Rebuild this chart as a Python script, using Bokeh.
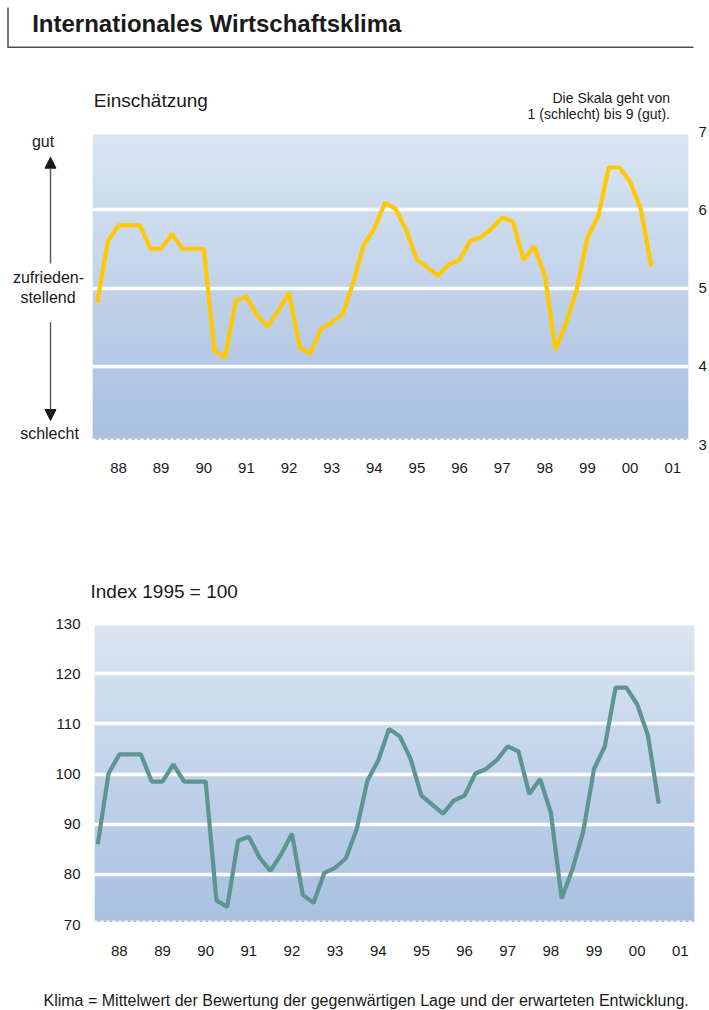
from bokeh.plotting import figure
from bokeh.models import Range1d, FixedTicker, Label, Arrow, NormalHead, Span
from bokeh.layouts import column, row
from bokeh.embed import file_html
from bokeh.resources import INLINE

# ---------------- data ----------------
years = list(range(1988, 2001))
quarter_labels = [f"{y}-Q{q}" for y in years for q in (1, 2, 3, 4)] + ["2001-Q1"]

# Einschaetzung (scale 1 = schlecht ... 9 = gut)
einschaetzung = [4.81, 5.60, 5.80, 5.80, 5.80, 5.50, 5.50, 5.69, 5.50, 5.50,
                 5.50, 4.20, 4.11, 4.84, 4.89, 4.65, 4.51, 4.71, 4.94, 4.24,
                 4.16, 4.48, 4.56, 4.66, 5.06, 5.55, 5.76, 6.09, 6.01, 5.74,
                 5.36, 5.26, 5.16, 5.30, 5.36, 5.60, 5.65, 5.76, 5.90, 5.85,
                 5.36, 5.53, 5.16, 4.21, 4.55, 4.99, 5.65, 5.91, 6.54, 6.54,
                 6.36, 6.01, 5.27]

# Index 1995 = 100
klima_index = [86.0, 100.1, 103.9, 103.9, 103.9, 98.5, 98.5, 101.9, 98.5, 98.5,
               98.5, 74.8, 73.5, 86.7, 87.5, 83.3, 80.7, 84.0, 88.1, 75.9,
               74.3, 80.3, 81.3, 83.2, 89.0, 98.7, 102.7, 109.0, 107.5, 103.0,
               95.7, 93.9, 92.1, 94.7, 95.7, 100.1, 101.0, 102.8, 105.5, 104.5,
               96.0, 99.0, 92.3, 75.2, 81.0, 88.5, 101.0, 105.5, 117.2, 117.2,
               113.9, 107.7, 94.1]

tick_years = list(range(1988, 2002))
year_labels = ["88", "89", "90", "91", "92", "93", "94", "95", "96", "97",
               "98", "99", "00", "01"]
ticks_top = [3, 4, 5, 6, 7]
ticks_bottom = [70, 80, 90, 100, 110, 120, 130]


def q_to_x(label):
    y, q = label.split("-Q")
    return int(y) + (int(q) - 1) / 4.0


xq = [q_to_x(s) for s in quarter_labels]

FONT = "Liberation Sans"
TXT = "#1a1a1a"
TOP_C = (218, 229, 242)
BOT_C = (169, 192, 225)
W = 709
BASE_K = 0.38   # empirical shift of Bokeh's alphabetic baseline


def gradient(p, x0, x1, y0, y1, n=120):
    h = (y1 - y0) / n
    bottoms, tops, colors = [], [], []
    for i in range(n):
        t = (i + 0.5) / n
        c = tuple(int(round(BOT_C[k] + (TOP_C[k] - BOT_C[k]) * t)) for k in range(3))
        bottoms.append(y0 + i * h)
        tops.append(min(y1, y0 + (i + 1.6) * h))
        colors.append("#%02x%02x%02x" % c)
    r = p.quad(left=x0, right=x1, bottom=bottoms, top=tops,
               fill_color=colors, line_color=None)
    r.level = "image"


def style_axis(ax, standoff):
    ax.axis_line_color = None
    ax.major_tick_line_color = None
    ax.minor_tick_line_color = None
    ax.major_tick_out = 0
    ax.major_tick_in = 0
    ax.minor_tick_out = 0
    ax.minor_tick_in = 0
    ax.major_label_standoff = standoff
    ax.major_label_text_font = FONT
    ax.major_label_text_font_size = "15px"
    ax.major_label_text_color = TXT


def pixel_fig(x0, x1, y0, y1):
    """A text panel whose data coordinates equal page pixels."""
    p = figure(width=x1 - x0, height=y1 - y0, x_range=Range1d(x0, x1),
               y_range=Range1d(y1, y0), output_backend="svg",
               toolbar_location=None, tools="", x_axis_location=None,
               y_axis_location=None, min_border=0, outline_line_color=None,
               background_fill_color="white", border_fill_color="white",
               frame_align=False)
    p.grid.visible = False
    return p


def add_label(p, x, y, text, size, align="left", bold=False):
    p.add_layout(Label(x=x, y=y - BASE_K * size, text=text, text_font=FONT,
                       text_font_size=f"{size}px", text_color=TXT,
                       text_align=align, text_baseline="alphabetic",
                       text_font_style="bold" if bold else "normal"))


def chart_fig(w, h, xr, yr, bl, br, bt, fh, y_loc):
    return figure(width=w, height=h, x_range=xr, y_range=yr,
                  output_backend="svg", toolbar_location=None, tools="",
                  y_axis_location=y_loc,
                  min_border_left=bl, min_border_right=br,
                  min_border_top=bt, min_border_bottom=h - bt - fh,
                  outline_line_color=None, background_fill_color="white",
                  border_fill_color="white", frame_align=False)


# ---------------- header ----------------
H0, H1 = 0, 123
header = pixel_fig(0, W, H0, H1)
hdr = dict(line_color="#4d4d4d", line_width=1.5, end=None)
header.add_layout(Arrow(x_start=7.5, y_start=7, x_end=7.5, y_end=46.7, **hdr))
header.add_layout(Arrow(x_start=7, y_start=46.7, x_end=693, y_end=46.7, **hdr))
add_label(header, 31.7, 32.3, "Internationales Wirtschaftsklima", 24, bold=True)
add_label(header, 93.3, 107.7, "Einschätzung", 19)
add_label(header, 669.5, 102.7, "Die Skala geht von", 14, align="right")
add_label(header, 669.5, 119.3, "1 (schlecht) bis 9 (gut).", 14, align="right")

# ---------------- top chart ----------------
A0, A1 = H1, 500
LEFT_W = 90
left = pixel_fig(0, LEFT_W, A0, A1)
add_label(left, 42.5, 147, "gut", 16, align="center")
add_label(left, 48, 283, "zufrieden-", 16, align="center")
add_label(left, 47.5, 302.7, "stellend", 16, align="center")
add_label(left, 49, 439.3, "schlecht", 16, align="center")
head = dict(size=11, fill_color="#1a1a1a", line_color="#1a1a1a")
left.add_layout(Arrow(x_start=50, y_start=263, x_end=50, y_end=156.7,
                      end=NormalHead(**head), line_color="#555555", line_width=1.4))
left.add_layout(Arrow(x_start=50, y_start=321.7, x_end=50, y_end=420,
                      end=NormalHead(**head), line_color="#555555", line_width=1.4))

XA0, XA1 = 1987.89, 2001.87
A_FT, A_FH = 131 - A0, 313
pA = chart_fig(W - LEFT_W, A1 - A0, Range1d(XA0, XA1), Range1d(3, 7),
               92 - LEFT_W, W - 689, A_FT, A_FH, "right")


def ay_(py):
    return 7 - (py - 131) * 4.0 / A_FH


gradient(pA, XA0, XA1, ay_(439.5), ay_(134))
pA.add_layout(Span(location=ay_(439), dimension="width", line_color="white",
                   line_width=2, line_dash="3 3"))
pA.xgrid.visible = False
pA.ygrid.ticker = FixedTicker(ticks=[4, 5, 6])
pA.ygrid.grid_line_color = "white"
pA.ygrid.grid_line_width = 3.5
style_axis(pA.xaxis[0], 18)
pA.xaxis.ticker = FixedTicker(ticks=[y + 0.5 for y in tick_years])
pA.xaxis.major_label_overrides = {y + 0.5: l for y, l in zip(tick_years, year_labels)}
style_axis(pA.yaxis[0], 10)
pA.yaxis.ticker = FixedTicker(ticks=ticks_top)
pA.line(xq, einschaetzung, line_color="#FFC800", line_width=4.2)

# ---------------- bottom header ----------------
B0 = 606
headB = pixel_fig(0, W, A1, B0)
add_label(headB, 90, 598.3, "Index 1995 = 100", 19)

# ---------------- bottom chart ----------------
B1 = 968
XB0, XB1 = 1987.924, 2001.829
B_FT, B_FH = 623 - B0, 301
pB = chart_fig(W, B1 - B0, Range1d(XB0, XB1), Range1d(70, 130),
               94, W - 694, B_FT, B_FH, "left")


def by_(py):
    return 130 - (py - 623) * 60.0 / B_FH


gradient(pB, XB0, XB1, by_(921.5), by_(625))
pB.add_layout(Span(location=by_(921), dimension="width", line_color="white",
                   line_width=2, line_dash="3 3"))
pB.xgrid.visible = False
pB.ygrid.ticker = FixedTicker(ticks=[80, 90, 100, 110, 120])
pB.ygrid.grid_line_color = "white"
pB.ygrid.grid_line_width = 3.5
style_axis(pB.xaxis[0], 21)
pB.xaxis.ticker = FixedTicker(ticks=[y + 0.5 for y in tick_years])
pB.xaxis.major_label_overrides = {y + 0.5: l for y, l in zip(tick_years, year_labels)}
style_axis(pB.yaxis[0], 14)
pB.yaxis.ticker = FixedTicker(ticks=ticks_bottom)
pB.line(xq, klima_index, line_color="#5F9590", line_width=4.2)

# ---------------- footnote ----------------
foot = pixel_fig(0, W, B1, 1010)
add_label(foot, 43, 1006.5,
          "Klima = Mittelwert der Bewertung der gegenwärtigen Lage und der erwarteten Entwicklung.",
          16)

layout = column(header, row(left, pA), headB, pB, foot)
open("out.html", "w").write(file_html(layout, INLINE))
